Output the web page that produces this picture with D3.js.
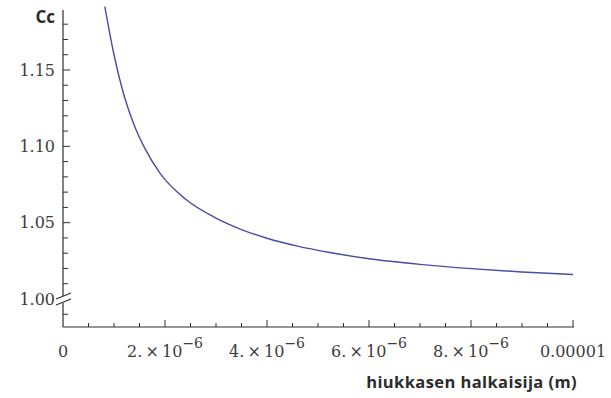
<!DOCTYPE html>
<html>
<head>
<meta charset="utf-8">
<script src="https://cdn.jsdelivr.net/npm/d3@7"></script>
<style>
  html, body { margin: 0; padding: 0; background: #fff; }
  svg { display: block; }
  .tick-label { font-family: "DejaVu Serif", serif; font-size: 16px; fill: #3c3c3c; }
  .axis-title { font-family: "Open Sans", sans-serif; font-weight: bold; fill: #2b2b2b; }
</style>
</head>
<body>
<script>
// Particle diameter (m) and slip correction factor Cc
const diameter = [0.82e-6, 1.0e-6, 1.2e-6, 1.4e-6, 1.6e-6, 1.9e-6, 2.4e-6,
                  3.0e-6, 3.5e-6, 4.0e-6, 4.6e-6, 5.2e-6, 6.0e-6, 7.0e-6,
                  8.0e-6, 9.0e-6, 10.0e-6];
const cc = [1.1915, 1.1600, 1.1330, 1.1135, 1.0990, 1.0825, 1.0655,
            1.0530, 1.0455, 1.0398, 1.0346, 1.0306, 1.0264, 1.0227,
            1.0199, 1.0177, 1.0160];

// Axis ticks
const xMajor = [0, 2e-6, 4e-6, 6e-6, 8e-6, 1e-5];
const xMajorMantissa = ["0", "2.", "4.", "6.", "8.", "0.00001"];
const yMajor = [1.00, 1.05, 1.10, 1.15];
const yMajorText = ["1.00", "1.05", "1.10", "1.15"];
const yLabel = "Cc";
const xLabel = "hiukkasen halkaisija (m)";

const W = 611, H = 398;
const svg = d3.select("body").append("svg").attr("width", W).attr("height", H);

const x = d3.scaleLinear().domain([0, 1e-5]).range([63, 573]);
const y = d3.scaleLinear().domain([1.0, 1.15]).range([299, 70]);
const yTopVal = 1.1893;
const xAxisY = 327;
const axisColor = "#2e2e2e";

const g = svg.append("g");

// x axis line and ticks
g.append("line").attr("x1", x(0)).attr("x2", x(1e-5) + 1)
  .attr("y1", xAxisY).attr("y2", xAxisY)
  .attr("stroke", axisColor).attr("stroke-width", 1.2);
const xMinor = d3.range(1, 21).map(i => i * 0.5e-6);
g.selectAll(".xt").data(xMinor).enter().append("line")
  .attr("x1", d => x(d)).attr("x2", d => x(d))
  .attr("y1", xAxisY).attr("y2", (d, i) => (i % 4 === 3) ? xAxisY - 7 : xAxisY - 4)
  .attr("stroke", axisColor).attr("stroke-width", 1);

// x tick labels
xMajor.forEach((v, i) => {
  const t = g.append("text").attr("class", "tick-label")
    .attr("x", x(v)).attr("y", 357).attr("text-anchor", "middle");
  if (v === 0 || v === 1e-5) {
    t.text(xMajorMantissa[i]);
  } else {
    t.append("tspan").text(xMajorMantissa[i] + "\u2009\u00d7\u200910");
    t.append("tspan").attr("dy", -9).attr("font-size", "14px").text("\u22126");
  }
});

// y axis line with a break at 1.00
const yBreak = y(1.0);
g.append("line").attr("x1", x(0)).attr("x2", x(0))
  .attr("y1", y(yTopVal)).attr("y2", yBreak - 3)
  .attr("stroke", axisColor).attr("stroke-width", 1.2);
g.append("line").attr("x1", x(0)).attr("x2", x(0))
  .attr("y1", yBreak + 4).attr("y2", xAxisY)
  .attr("stroke", axisColor).attr("stroke-width", 1.2);
[-3, 3].forEach(off => {
  g.append("line")
    .attr("x1", x(0) - 7).attr("y1", yBreak + off + 3)
    .attr("x2", x(0) + 8).attr("y2", yBreak + off - 3)
    .attr("stroke", axisColor).attr("stroke-width", 1.1);
});

// y ticks every 0.01 (skip the break position)
const yTicks = d3.range(-1, 19).map(i => +(1 + i * 0.01).toFixed(2)).filter(v => v !== 1.0);
g.selectAll(".yt").data(yTicks).enter().append("line")
  .attr("x1", x(0)).attr("x2", d => (Math.round(d * 100) % 5 === 0) ? x(0) + 7 : x(0) + 5)
  .attr("y1", d => y(d)).attr("y2", d => y(d))
  .attr("stroke", axisColor).attr("stroke-width", 1);

// y tick labels
yMajor.forEach((v, i) => {
  g.append("text").attr("class", "tick-label")
    .attr("x", 55).attr("y", y(v) + 5.5).attr("text-anchor", "end")
    .text(yMajorText[i]);
});

// curve
const pts = diameter.map((d, i) => [x(d), y(cc[i])]);
g.append("path").attr("d", d3.line().curve(d3.curveMonotoneX)(pts))
  .attr("fill", "none").attr("stroke", "#4b4ba8").attr("stroke-width", 1.4);

// axis titles
g.append("text").attr("class", "axis-title").attr("font-size", "17px")
  .attr("x", 55).attr("y", 23).attr("text-anchor", "end").text(yLabel);
g.append("text").attr("class", "axis-title").attr("font-size", "16.5px")
  .attr("letter-spacing", "0.4px")
  .attr("x", 577).attr("y", 388).attr("text-anchor", "end").text(xLabel);
</script>
</body>
</html>
